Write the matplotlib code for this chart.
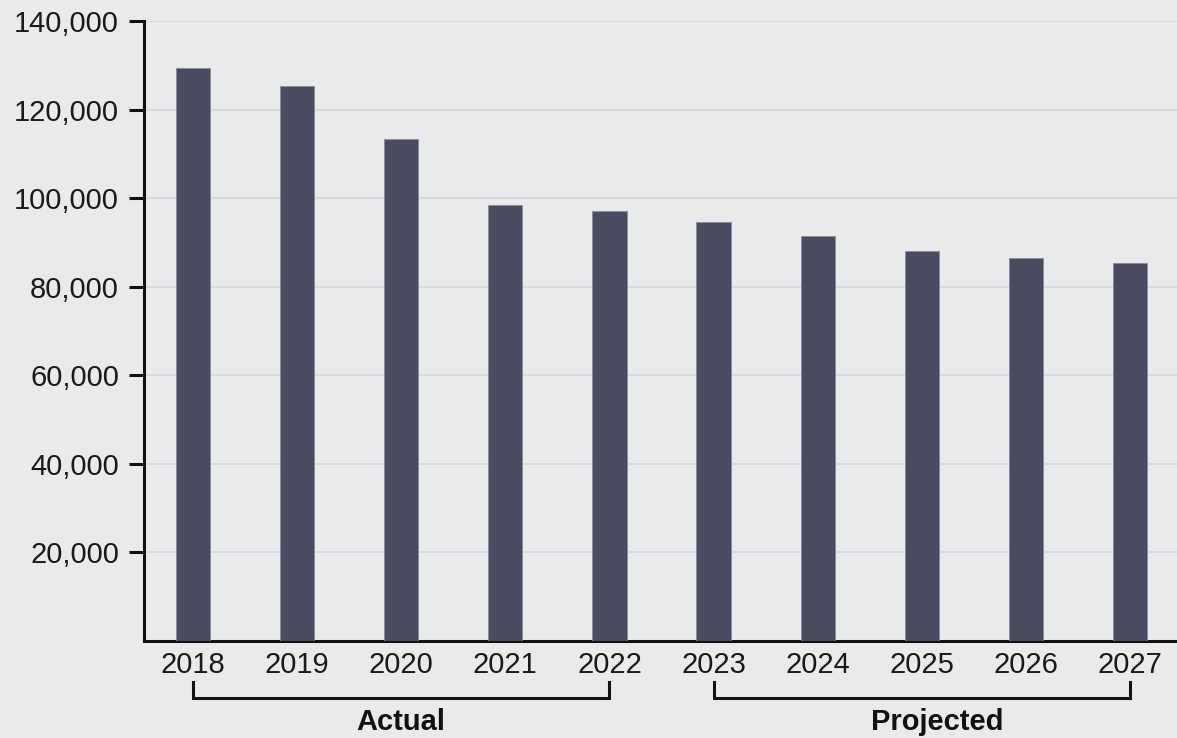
import matplotlib.pyplot as plt
import matplotlib.transforms as mtransforms
from matplotlib.ticker import FuncFormatter

years = ['2018', '2019', '2020', '2021', '2022', '2023', '2024', '2025', '2026', '2027']
values = [129400, 125300, 113400, 98500, 97200, 94700, 91500, 88100, 86500, 85400]
yticks = [20000, 40000, 60000, 80000, 100000, 120000, 140000]

groups = [('Actual', 0, 4, 2.0), ('Projected', 5, 9, 7.15)]

plt.rcParams['font.family'] = ['Liberation Sans', 'DejaVu Sans']

bg = '#e9eaec'
fig = plt.figure(figsize=(11.77, 7.38), dpi=100, facecolor=bg)
ax = fig.add_axes([0.1223, 0.1314, 0.8777, 0.8401], facecolor=bg)

x = list(range(len(years)))
ax.bar(x, values, width=0.33, color='#4b4b5f', edgecolor='#8a8a98', linewidth=0.6, zorder=3)

ax.set_xlim(-0.47, 9.45)
ax.set_ylim(0, 140000)
ax.set_yticks(yticks)
ax.yaxis.set_major_formatter(FuncFormatter(lambda v, p: f'{int(v):,}'))
ax.set_xticks(x)
ax.set_xticklabels(years)
ax.grid(axis='y', color='#d6d7da', linewidth=1.2, zorder=0)

for s in ['top', 'right']:
    ax.spines[s].set_visible(False)
for s in ['left', 'bottom']:
    ax.spines[s].set_linewidth(2.2)
    ax.spines[s].set_color('#111111')

ax.tick_params(axis='y', length=11, width=2.2, color='#111111', labelsize=21, pad=7, labelcolor='#1a1a1a')
ax.tick_params(axis='x', length=0, labelsize=21, pad=7, labelcolor='#1a1a1a')

# brackets under the year labels
trans = mtransforms.blended_transform_factory(ax.transData, ax.transAxes)
for label, i0, i1, xc in groups:
    ax.plot([i0, i0, i1, i1], [-0.066, -0.092, -0.092, -0.066], color='#111111',
            linewidth=2.2, transform=trans, clip_on=False, solid_joinstyle='miter')
    ax.text(xc, -0.131, label, transform=trans, ha='center', va='center',
            fontsize=21, fontweight='bold', color='#111111')

fig.savefig('out.png', dpi=100, facecolor=bg)
